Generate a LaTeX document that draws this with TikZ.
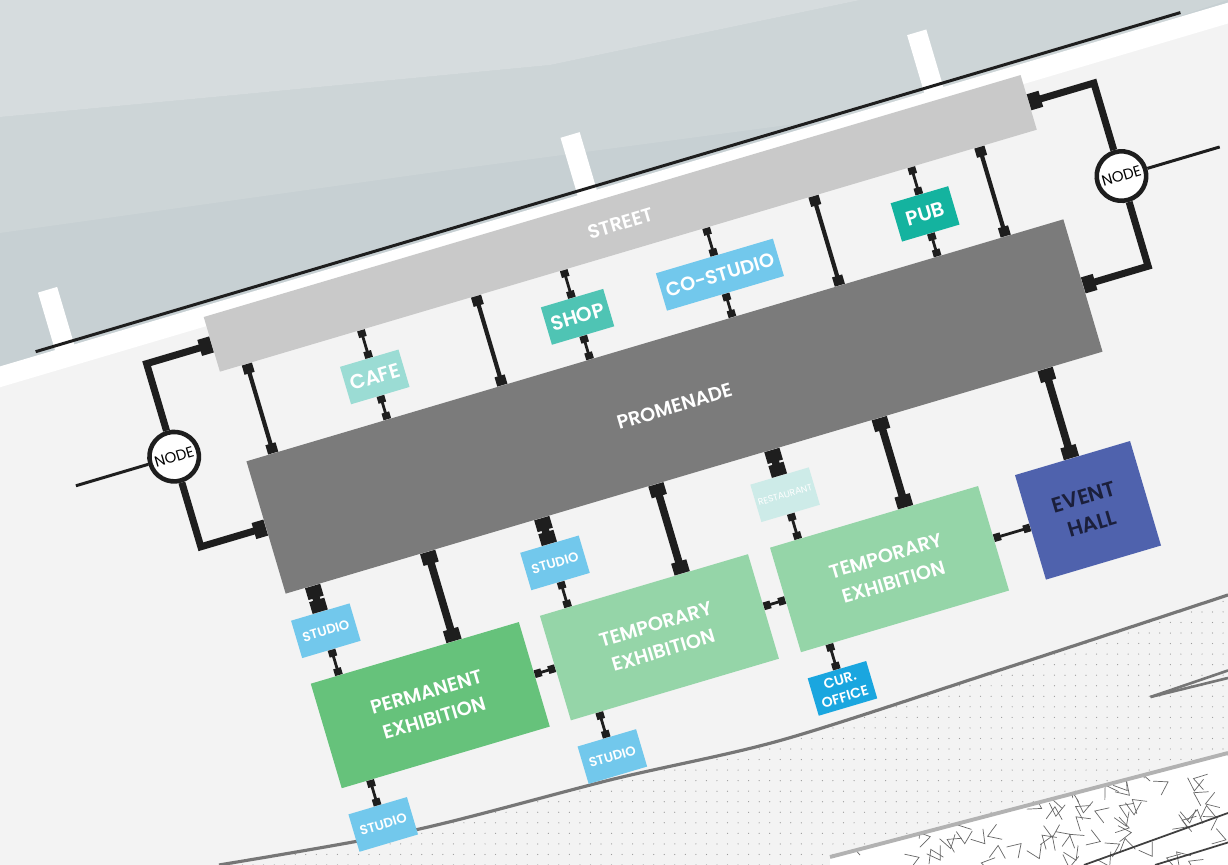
\documentclass[tikz,border=0pt]{standalone}
\usepackage{fontspec}
\setmainfont{Poppins}[BoldFont={Poppins SemiBold}]
\usetikzlibrary{arrows.meta,patterns.meta}
\definecolor{seagray}{HTML}{C7D0D3}
\definecolor{seamid}{HTML}{CDD5D7}
\definecolor{seapale}{HTML}{D6DCDE}
\definecolor{ground}{HTML}{F3F3F3}
\definecolor{streetgray}{HTML}{C9C9C9}
\definecolor{promgray}{HTML}{7B7B7B}
\definecolor{ink}{HTML}{1E1E1E}
\definecolor{cafeteal}{HTML}{9BDCD4}
\definecolor{shopteal}{HTML}{4FC4B4}
\definecolor{pubteal}{HTML}{14B39F}
\definecolor{studioblue}{HTML}{72C8EC}
\definecolor{officeblue}{HTML}{1AA6DF}
\definecolor{restpale}{HTML}{CDEBE8}
\definecolor{permgreen}{HTML}{66C27B}
\definecolor{tempgreen}{HTML}{95D5A8}
\definecolor{hallblue}{HTML}{4F62AD}
\definecolor{hallink}{HTML}{1B1F3B}
\definecolor{roadgray}{HTML}{767676}
\tikzset{
  room/.style={inner sep=0pt,align=center,text=white,font=\bfseries\fontsize{11}{15.5}\selectfont},
  kiosk/.style={room,minimum width=1.22cm,minimum height=0.78cm,font=\bfseries\fontsize{11.5}{12}\selectfont},
  studiobox/.style={kiosk,fill=studioblue,font=\bfseries\fontsize{7.5}{8}\selectfont},
  wing/.style={room,minimum width=4.34cm,minimum height=2.18cm},
  hub/.style={circle,draw=ink,line width=2.6pt,fill=white,minimum size=0.99cm,inner sep=0pt,font=\fontsize{8.5}{9}\selectfont},
  thinlink/.style={draw=ink,line width=1.6pt,{Rectangle[width=4.5pt,length=4pt]}-{Rectangle[width=4.5pt,length=4pt]}},
  midlink/.style={draw=ink,line width=2.4pt,{Rectangle[width=6pt,length=5.5pt]}-{Rectangle[width=6pt,length=5.5pt]}},
  biglink/.style={draw=ink,line width=4.3pt,{Rectangle[width=9pt,length=7pt]}-{Rectangle[width=9pt,length=7pt]}},
  hublink/.style={draw=ink,line width=4pt,{Rectangle[width=9.5pt,length=7pt]}-},
}
\begin{document}
\begin{tikzpicture}
\useasboundingbox (0,0) rectangle (24.56,17.3);
\fill[ground] (0,0) rectangle (24.56,17.3);
\fill[seagray] (0,9.86) -- (24.56,17.24) -- (24.56,17.3) -- (0,17.3) -- cycle;
\fill[seamid] (0,12.64) -- (9,13.9) -- (18,15.1) -- (24.56,17.3) -- (17.2,17.3) -- (11,16.0) -- (4.7,15.4) -- (0,14.96) -- cycle;
\fill[seapale] (0,17.3) -- (17.2,17.3) -- (11,16.0) -- (4.7,15.4) -- (0,14.96) -- cycle;
\fill[pattern={Dots[distance=6pt,radius=0.35pt]},pattern color=black!40] plot[smooth] coordinates {(4.38,0) (8.3,0.7) (12.28,1.72) (15.64,2.5) (20,3.9) (24.56,5.4)} -- (24.56,0) -- cycle;
\begin{scope}
\clip (16.6,0.16) -- (24.56,2.24) -- (24.56,0) -- (16.6,0) -- cycle;
\fill[white] (16.6,0.16) -- (24.56,2.24) -- (24.56,0) -- (16.6,0) -- cycle;
\pgfmathsetseed{11}
\foreach \i in {1,...,110}{
  \pgfmathsetmacro\tx{16.6+8*rnd}
  \pgfmathsetmacro\ty{2.3*rnd}
  \pgfmathsetmacro\ta{360*rnd}
  \draw[black!60,line width=0.4pt,rotate around={\ta:(\tx,\ty)}] (\tx-0.16,\ty-0.11) -- (\tx,\ty+0.14) -- (\tx+0.16,\ty-0.11);
}
\end{scope}
\draw[roadgray,line width=1.8pt] plot[smooth] coordinates {(4.38,0) (8.3,0.7) (12.28,1.72) (15.64,2.5) (20,3.9) (24.56,5.4)};
\draw[black!30,line width=2.2pt] (16.6,0.16) -- (24.56,2.24);
\draw[black!75,line width=1pt] (21.68,0) -- (24.56,1.04);
\draw[black!75,line width=1pt] (23.1,0) -- (24.56,0.45);
\draw[roadgray,line width=1.5pt] (23.01,3.36) -- (24.56,3.89);
\draw[roadgray,line width=1.5pt] (23.01,3.36) -- (24.56,3.74);
\begin{scope}[transform canvas={shift={(13.49,9.17)},rotate=16.5}]
\fill[white] (-16,4.2) rectangle (16,4.6);
\foreach \p in {-11.36,-0.46,6.77}
  \fill[white] (\p-0.2,4.3) rectangle (\p+0.2,5.8);
\draw[ink,line width=1.7pt] (-11.94,4.68) -- (11.94,4.68);
\node[room,fill=streetgray,minimum width=17.04cm,minimum height=1.14cm] (street) at (0,3.82) {STREET};
\node[room,fill=promgray,minimum width=17.04cm,minimum height=2.76cm] (prom) at (0,0) {PROMENADE};
\node[kiosk,fill=cafeteal] (cafe) at (-5.58,2.27) {CAFE};
\node[kiosk,fill=shopteal,minimum width=1.3cm] (shop) at (-1.35,2.27) {SHOP};
\node[kiosk,fill=studioblue,minimum width=2.44cm,font=\bfseries\fontsize{11}{12}\selectfont] (costudio) at (1.62,2.27) {CO-STUDIO};
\node[kiosk,fill=pubteal,minimum width=1.2cm,minimum height=0.8cm] (pub) at (5.90,2.27) {PUB};
\node[studiobox] (studioA) at (-7.96,-2.32) {STUDIO};
\node[studiobox] (studioB) at (-3.18,-2.32) {STUDIO};
\node[kiosk,fill=restpale,font=\fontsize{5.2}{6}\selectfont] (rest) at (1.62,-2.32) {RESTAURANT};
\node[wing,fill=permgreen] (perm) at (-6.38,-4.34) {PERMANENT\\EXHIBITION};
\node[wing,fill=tempgreen] (tempA) at (-1.60,-4.34) {TEMPORARY\\EXHIBITION};
\node[wing,fill=tempgreen] (tempB) at (3.20,-4.34) {TEMPORARY\\EXHIBITION};
\node[wing,fill=hallblue,minimum width=2.4cm,text=hallink,font=\bfseries\fontsize{12}{16}\selectfont] (event) at (7.34,-4.34) {EVENT\\HALL};
\node[studiobox] (studioC) at (-7.96,-6.36) {STUDIO};
\node[studiobox] (studioD) at (-3.18,-6.36) {STUDIO};
\node[kiosk,fill=officeblue,font=\bfseries\fontsize{8}{10}\selectfont] (office) at (1.62,-6.36) {CUR.\\OFFICE};
\node[hub] (hubL) at (-9.88,1.88) {NODE};
\node[hub] (hubR) at (9.88,1.88) {NODE};
\coordinate (tailL) at (-11.93,1.88);
\coordinate (tailR) at (11.93,1.88);
\coordinate (colA) at (-7.96,0);
\coordinate (colB) at (-3.18,0);
\coordinate (colC) at (3.86,0);
\coordinate (colD) at (7.32,0);
\coordinate (colP) at (-5.56,0);
\coordinate (colT) at (-0.80,0);
\foreach \c in {colA,colB,colC,colD}
  \draw[midlink] (street.south -| \c) -- (prom.north -| \c);
\foreach \spot in {cafe,shop,costudio,pub}{
  \draw[thinlink] (street.south -| \spot) -- (\spot.north);
  \draw[thinlink] (\spot.south) -- (prom.north -| \spot);
}
\foreach \spot in {studioA,studioB,rest}
  \draw[biglink] (prom.south -| \spot) -- (\spot.north);
\draw[thinlink] (studioA.south) -- (perm.north -| studioA);
\draw[thinlink] (studioB.south) -- (tempA.north -| studioB);
\draw[thinlink] (rest.south) -- (tempB.north -| rest);
\draw[biglink] (prom.south -| colP) -- (perm.north -| colP);
\draw[biglink] (prom.south -| colT) -- (tempA.north -| colT);
\draw[biglink] (prom.south -| colC) -- (tempB.north -| colC);
\draw[biglink] (prom.south -| colD) -- (event.north -| colD);
\draw[thinlink] (perm.east) -- (tempA.west);
\draw[thinlink] (tempA.east) -- (tempB.west);
\draw[thinlink] (tempB.east) -- (event.west);
\draw[thinlink] (perm.south -| studioC) -- (studioC.north);
\draw[thinlink] (tempA.south -| studioD) -- (studioD.north);
\draw[thinlink] (tempB.south -| office) -- (office.north);
\draw[hublink] (street.west) -| (hubL.north);
\draw[hublink] (prom.west) -| (hubL.south);
\draw[hublink] (street.east) -| (hubR.north);
\draw[hublink] (prom.east) -| (hubR.south);
\draw[ink,line width=1.7pt] (hubL.west) -- (tailL);
\draw[ink,line width=1.7pt] (hubR.east) -- (tailR);
\end{scope}
\end{tikzpicture}
\end{document}
